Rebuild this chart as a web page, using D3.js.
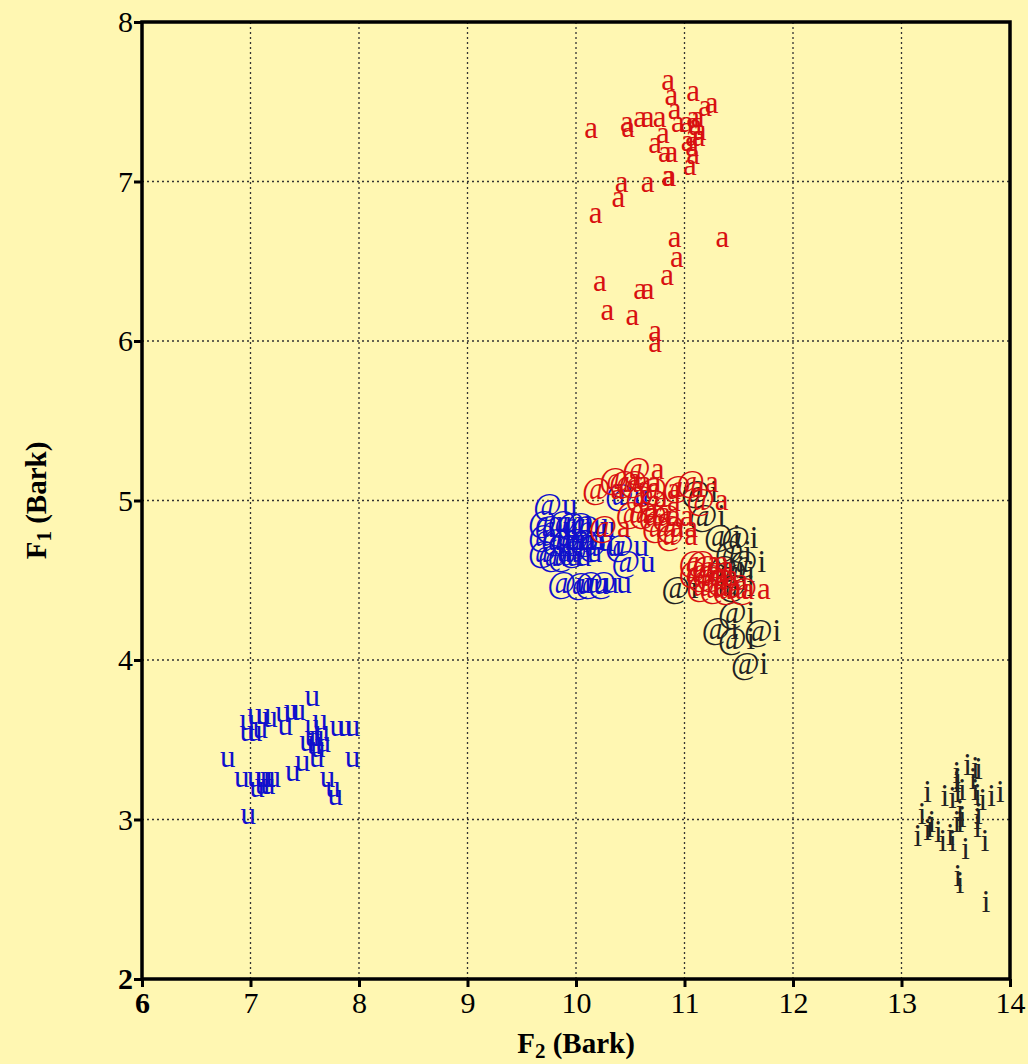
<!DOCTYPE html>
<html>
<head>
<meta charset="utf-8">
<script src="https://cdn.jsdelivr.net/npm/d3@7"></script>
<style>
  body { margin: 0; background: #fff7b2; }
  svg text { font-family: "Liberation Serif", "DejaVu Serif", serif; }
</style>
</head>
<body>
<div id="scatter"></div>
<script>
var svgWidth = 1028;
var svgHeight = 1064;

var margin = { top: 22, right: 18, bottom: 85, left: 142 };
var width = svgWidth - margin.left - margin.right;
var height = svgHeight - margin.top - margin.bottom;

// tick values
var xTicks = [6, 7, 8, 9, 10, 11, 12, 13, 14];
var yTicks = [2, 3, 4, 5, 6, 7, 8];

// red "a" (F2, F1)
var aF2 = [10.14, 10.85, 10.88, 11.08, 10.91, 11.25, 11.19, 10.47, 10.48, 10.59, 10.66, 10.77, 10.94, 11.02,
  11.08, 11.12, 11.10, 11.14, 11.13, 11.07, 11.03, 11.07, 11.08, 11.05, 10.80, 10.73, 10.82, 10.88, 10.85, 10.86,
  10.66, 10.42, 10.39, 10.18, 10.91, 11.35, 10.93, 10.84, 10.22, 10.59, 10.66, 10.29, 10.52, 10.73, 10.73];
var aF1 = [7.33, 7.63, 7.54, 7.56, 7.45, 7.49, 7.47, 7.37, 7.34, 7.40, 7.40, 7.40, 7.37, 7.37,
  7.40, 7.40, 7.35, 7.32, 7.28, 7.28, 7.25, 7.22, 7.17, 7.10, 7.30, 7.24, 7.18, 7.18, 7.03, 7.03,
  6.99, 6.99, 6.90, 6.80, 6.65, 6.65, 6.52, 6.41, 6.37, 6.32, 6.32, 6.19, 6.16, 6.06, 5.99];

// blue "u"
var uF2 = [7.57, 6.97, 7.04, 7.12, 7.18, 7.30, 7.38, 7.44, 6.97, 7.04, 7.09, 7.32, 7.57, 7.64, 7.66, 7.61, 7.57,
  7.52, 7.59, 7.62, 7.67, 7.80, 7.87, 7.94, 6.79, 7.94, 7.61, 7.48, 7.39, 6.92, 7.04, 7.11, 7.16, 7.21, 7.06,
  7.11, 7.16, 7.71, 7.76, 7.78, 6.98];
var uF1 = [3.77, 3.62, 3.66, 3.66, 3.64, 3.67, 3.68, 3.68, 3.55, 3.55, 3.57, 3.59, 3.59, 3.62, 3.55, 3.52, 3.52,
  3.49, 3.47, 3.45, 3.48, 3.58, 3.58, 3.58, 3.39, 3.39, 3.39, 3.36, 3.30, 3.26, 3.26, 3.26, 3.26, 3.26, 3.20,
  3.22, 3.22, 3.26, 3.20, 3.15, 3.03];

// black "i"
var iF2 = [13.61, 13.68, 13.71, 13.51, 13.24, 13.40, 13.47, 13.52, 13.56, 13.51, 13.52, 13.68, 13.66, 13.70, 13.75,
  13.83, 13.91, 13.19, 13.24, 13.26, 13.28, 13.15, 13.34, 13.38, 13.45, 13.47, 13.51, 13.54, 13.56, 13.54, 13.70,
  13.71, 13.70, 13.59, 13.77, 13.52, 13.54, 13.78];
var iF1 = [3.34, 3.32, 3.31, 3.29, 3.17, 3.14, 3.13, 3.17, 3.18, 3.23, 3.25, 3.18, 3.25, 3.15, 3.12,
  3.14, 3.17, 3.03, 2.93, 2.95, 2.98, 2.89, 2.92, 2.86, 2.90, 2.86, 2.98, 2.98, 3.01, 3.05, 3.00,
  3.03, 2.95, 2.81, 2.86, 2.64, 2.60, 2.48];

// "@u" blue
var atuF2 = [9.81, 9.76, 9.82, 9.94, 10.02, 10.10, 10.16, 9.76, 9.88, 9.97, 10.06, 10.15, 10.22, 9.76, 9.85, 9.94,
  10.04, 10.47, 10.53, 9.94, 10.10, 10.19, 10.31, 10.47];
var atuF1 = [4.97, 4.86, 4.83, 4.86, 4.85, 4.85, 4.83, 4.77, 4.75, 4.75, 4.75, 4.74, 4.71, 4.67, 4.65, 4.65,
  4.67, 4.71, 4.61, 4.48, 4.47, 4.48, 4.48, 5.03];

// "@a" red
var ataF2 = [10.62, 10.25, 10.41, 10.50, 10.59, 10.77, 10.99, 11.12, 10.65, 10.77, 10.56, 10.68, 10.77, 10.89,
  10.80, 10.93, 10.31, 10.93, 11.21, 11.14, 11.21, 11.26, 11.14, 11.21, 11.30, 11.39, 11.21, 11.33, 11.45, 11.60];
var ataF1 = [5.19, 5.07, 5.13, 5.11, 5.11, 5.07, 5.08, 5.11, 5.02, 4.99, 4.92, 4.92, 4.90, 4.90,
  4.83, 4.83, 4.83, 4.78, 5.00, 4.61, 4.61, 4.58, 4.55, 4.52, 4.52, 4.50, 4.46, 4.45, 4.44, 4.44];

// "@i" black
var atiF2 = [11.14, 11.21, 11.35, 11.51, 11.45, 11.58, 11.39, 11.48, 10.96, 11.48, 11.48, 11.33, 11.72, 11.48, 11.60];
var atiF1 = [5.05, 4.90, 4.77, 4.76, 4.67, 4.61, 4.58, 4.55, 4.45, 4.46, 4.29, 4.19, 4.18, 4.13, 3.97];

var svg = d3.select("#scatter")
  .append("svg")
  .attr("width", svgWidth)
  .attr("height", svgHeight);

svg.append("rect")
  .attr("width", svgWidth)
  .attr("height", svgHeight)
  .attr("fill", "#fff7b2");

var chartGroup = svg.append("g")
  .attr("transform", `translate(${margin.left}, ${margin.top})`);

var xScale = d3.scaleLinear().domain([6, 14]).range([0, width]);
var yScale = d3.scaleLinear().domain([2, 8]).range([height, 0]);

// dotted grid
chartGroup.append("g")
  .selectAll("line")
  .data(xTicks.slice(1, -1))
  .enter()
  .append("line")
  .attr("x1", d => xScale(d)).attr("x2", d => xScale(d))
  .attr("y1", 0).attr("y2", height)
  .attr("stroke", "#333").attr("stroke-width", 1.3)
  .attr("stroke-dasharray", "2,3");

chartGroup.append("g")
  .selectAll("line")
  .data(yTicks.slice(1, -1))
  .enter()
  .append("line")
  .attr("y1", d => yScale(d)).attr("y2", d => yScale(d))
  .attr("x1", 0).attr("x2", width)
  .attr("stroke", "#333").attr("stroke-width", 1.3)
  .attr("stroke-dasharray", "2,3");

// axes
var bottomAxis = d3.axisBottom(xScale).tickValues(xTicks).tickSize(8).tickPadding(5).tickFormat(d3.format("d"));
var leftAxis = d3.axisLeft(yScale).tickValues(yTicks).tickSize(8).tickPadding(1).tickFormat(d3.format("d"));

var xAxisG = chartGroup.append("g")
  .attr("transform", `translate(0, ${height})`)
  .call(bottomAxis);
var yAxisG = chartGroup.append("g")
  .call(leftAxis);

[xAxisG, yAxisG].forEach(function(g) {
  g.select(".domain").remove();
  g.selectAll(".tick line").attr("stroke", "#000").attr("stroke-width", 3);
  g.selectAll(".tick text")
    .attr("fill", "#000")
    .style("font-size", "30px")
    .style("font-family", "'Liberation Serif', serif");
});
xAxisG.selectAll(".tick text").filter(d => d === 6).style("font-weight", "bold");
yAxisG.selectAll(".tick text").filter(d => d === 2).style("font-weight", "bold");

// frame
chartGroup.append("rect")
  .attr("width", width)
  .attr("height", height)
  .attr("fill", "none")
  .attr("stroke", "#000")
  .attr("stroke-width", 3.5);

// symbols
function drawLabels(xs, ys, label, color) {
  chartGroup.append("g")
    .selectAll("text")
    .data(xs.map((x, i) => [x, ys[i]]))
    .enter()
    .append("text")
    .attr("x", d => xScale(d[0]))
    .attr("y", d => yScale(d[1]))
    .attr("text-anchor", "middle")
    .attr("dy", "0.3em")
    .style("font-size", "31px")
    .attr("fill", color)
    .text(label);
}

drawLabels(aF2, aF1, "a", "#d81010");
drawLabels(uF2, uF1, "u", "#1010cc");
drawLabels(iF2, iF1, "i", "#222222");
drawLabels(atuF2, atuF1, "@u", "#1010cc");
drawLabels(atiF2, atiF1, "@i", "#222222");
drawLabels(ataF2, ataF1, "@a", "#d81010");

// axis labels
var xLabel = chartGroup.append("text")
  .attr("x", width / 2)
  .attr("y", height + 74)
  .attr("text-anchor", "middle")
  .style("font-size", "29px")
  .style("font-weight", "bold");
xLabel.append("tspan").text("F");
xLabel.append("tspan").attr("dy", 5).style("font-size", "21px").text("2");
xLabel.append("tspan").attr("dy", -5).text(" (Bark)");

var yLabel = chartGroup.append("text")
  .attr("transform", `translate(${46 - margin.left}, ${yScale(5)}) rotate(-90)`)
  .attr("text-anchor", "middle")
  .style("font-size", "29px")
  .style("font-weight", "bold");
yLabel.append("tspan").text("F");
yLabel.append("tspan").attr("dy", 5).style("font-size", "21px").text("1");
yLabel.append("tspan").attr("dy", -5).text(" (Bark)");
</script>
</body>
</html>
